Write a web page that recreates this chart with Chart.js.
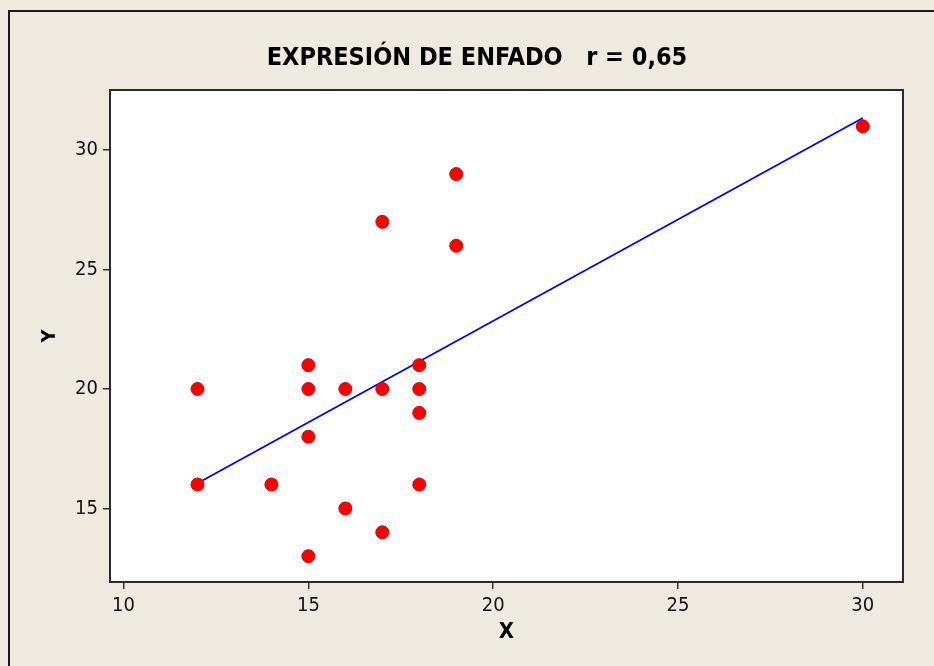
<!DOCTYPE html>
<html>
<head>
<meta charset="utf-8">
<script src="https://cdn.jsdelivr.net/npm/chart.js@4/dist/chart.umd.min.js"></script>
<style>
  html, body { margin: 0; padding: 0; background: #EEEAE0; }
  #wrap { width: 934px; height: 666px; }
</style>
</head>
<body>
<div id="wrap"><canvas id="scatterChart" width="934" height="666"></canvas></div>
<script>
// datos
var xValues = [12, 12, 14, 15, 15, 15, 15, 16, 16, 17, 17, 17, 18, 18, 18, 18, 19, 19, 30];
var yValues = [20, 16, 16, 21, 20, 18, 13, 20, 15, 27, 20, 14, 21, 20, 19, 16, 29, 26, 31];
var fitX = [12, 30];
var fitY = [16.05, 31.35];
var xTicks = [10, 15, 20, 25, 30];
var yTicks = [15, 20, 25, 30];

var chartTitle = 'EXPRESIÓN DE ENFADO   r = 0,65';
var fontFamily = "'DejaVu Sans Condensed', 'DejaVu Sans', sans-serif";

var points = xValues.map(function (x, i) { return { x: x, y: yValues[i] }; });
var fitLine = fitX.map(function (x, i) { return { x: x, y: fitY[i] }; });

// fondo, marco exterior, borde del area y titulo
var framePlugin = {
    id: 'frame',
    beforeDraw: function (chart) {
        var ctx = chart.ctx;
        var a = chart.chartArea;
        ctx.save();
        ctx.fillStyle = '#EEEAE0';
        ctx.fillRect(0, 0, chart.width, chart.height);
        ctx.strokeStyle = '#1a1a1a';
        ctx.lineWidth = 2;
        ctx.beginPath();
        ctx.moveTo(9, chart.height + 5);
        ctx.lineTo(9, 11);
        ctx.lineTo(chart.width + 5, 11);
        ctx.stroke();
        ctx.fillStyle = '#ffffff';
        ctx.fillRect(a.left, a.top, a.right - a.left, a.bottom - a.top);
        ctx.restore();
    },
    afterDraw: function (chart) {
        var ctx = chart.ctx;
        var a = chart.chartArea;
        ctx.save();
        ctx.strokeStyle = '#2a2a2a';
        ctx.lineWidth = 2;
        ctx.strokeRect(a.left - 1, a.top - 1, a.right - a.left + 2, a.bottom - a.top + 2);
        ctx.fillStyle = '#000000';
        ctx.font = 'bold 25px ' + fontFamily;
        ctx.textAlign = 'center';
        ctx.textBaseline = 'alphabetic';
        ctx.fillText(chartTitle, 477, 65);
        ctx.restore();
    }
};

var ctx = document.getElementById('scatterChart').getContext('2d');

var myChart = new Chart(ctx, {
    type: 'scatter',
    data: {
        datasets: [{
            label: 'Y',
            data: points,
            backgroundColor: '#FF0000',
            borderColor: '#E00000',
            borderWidth: 1,
            pointRadius: 6.5,
            order: 1
        }, {
            label: 'ajuste',
            data: fitLine,
            showLine: true,
            borderColor: '#0000FF',
            borderWidth: 1.8,
            pointRadius: 0,
            order: 2
        }]
    },
    options: {
        responsive: false,
        animation: false,
        layout: { padding: { left: 0, top: 91, right: 32, bottom: 0 } },
        plugins: {
            legend: { display: false },
            tooltip: { enabled: false }
        },
        scales: {
            x: {
                type: 'linear',
                min: 9.66,
                max: 31.06,
                afterBuildTicks: function (scale) {
                    scale.ticks = xTicks.map(function (v) { return { value: v }; });
                },
                afterFit: function (scale) { scale.height = 85; },
                border: { display: false },
                grid: { drawOnChartArea: false, drawTicks: true, tickLength: 8, color: '#333333', lineWidth: 1.5 },
                ticks: {
                    color: '#111111',
                    padding: 5,
                    maxRotation: 0,
                    font: { family: fontFamily, size: 20 }
                },
                title: {
                    display: true,
                    text: 'X',
                    color: '#000000',
                    padding: { top: 0, bottom: 21 },
                    font: { family: fontFamily, size: 22, weight: 'bold' }
                }
            },
            y: {
                type: 'linear',
                min: 11.96,
                max: 32.48,
                afterBuildTicks: function (scale) {
                    scale.ticks = yTicks.map(function (v) { return { value: v }; });
                },
                afterFit: function (scale) { scale.width = 111; },
                border: { display: false },
                grid: { drawOnChartArea: false, drawTicks: true, tickLength: 8, color: '#333333', lineWidth: 1.5 },
                ticks: {
                    color: '#111111',
                    padding: 5,
                    font: { family: fontFamily, size: 20 }
                },
                title: {
                    display: true,
                    text: 'Y',
                    color: '#000000',
                    padding: { top: 38, bottom: 0 },
                    font: { family: fontFamily, size: 20, weight: 'bold' }
                }
            }
        }
    },
    plugins: [framePlugin]
});
</script>
</body>
</html>
